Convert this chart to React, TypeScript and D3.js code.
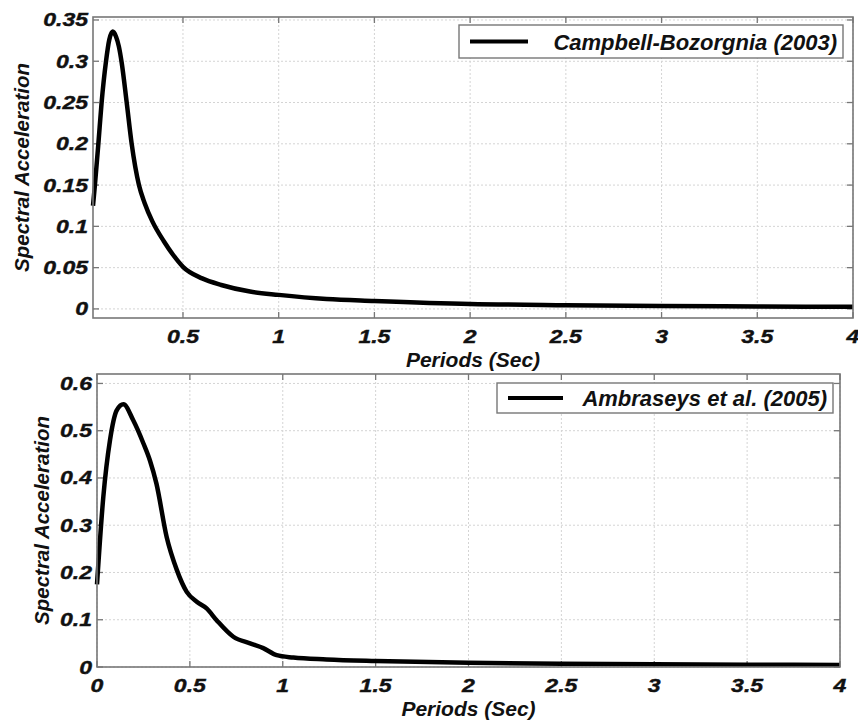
import React, { useEffect, useRef } from 'react';
import * as d3 from 'd3';

// Campbell-Bozorgnia (2003)
const cbPeriods = [0.03, 0.04, 0.058, 0.075, 0.098, 0.115, 0.133, 0.15, 0.165, 0.18, 0.206, 0.232, 0.27, 0.3, 0.34, 0.4, 0.45, 0.5, 0.6, 0.7, 0.85, 1.0, 1.25, 1.5, 2.0, 2.5, 3.0, 3.5, 4.0];
const cbSa = [0.125, 0.15, 0.2, 0.25, 0.3, 0.326, 0.336, 0.33, 0.318, 0.298, 0.25, 0.2, 0.15, 0.128, 0.106, 0.082, 0.065, 0.051, 0.037, 0.029, 0.021, 0.017, 0.012, 0.0097, 0.006, 0.0045, 0.0035, 0.003, 0.0025];

// Ambraseys et al. (2005)
const amPeriods = [0, 0.034, 0.07, 0.106, 0.142, 0.195, 0.25, 0.285, 0.32, 0.375, 0.43, 0.483, 0.537, 0.59, 0.644, 0.734, 0.824, 0.895, 0.967, 1.057, 1.236, 1.5, 2.0, 2.5, 3.0, 3.5, 4.0];
const amSa = [0.175, 0.36, 0.48, 0.543, 0.556, 0.522, 0.473, 0.437, 0.388, 0.275, 0.205, 0.159, 0.138, 0.124, 0.099, 0.064, 0.05, 0.04, 0.025, 0.02, 0.016, 0.0127, 0.009, 0.007, 0.006, 0.005, 0.004];

const topXTicks = [0.5, 1, 1.5, 2, 2.5, 3, 3.5, 4];
const topYTicks = [0, 0.05, 0.1, 0.15, 0.2, 0.25, 0.3, 0.35];
const botXTicks = [0, 0.5, 1, 1.5, 2, 2.5, 3, 3.5, 4];
const botYTicks = [0, 0.1, 0.2, 0.3, 0.4, 0.5, 0.6];

const FONT = "'Liberation Sans', Arial, sans-serif";

function drawPanel(svg, p) {
  const x = d3.scaleLinear().domain(p.xDomain).range([p.left, p.right]);
  const y = d3.scaleLinear().domain(p.yDomain).range([p.bottom, p.top]);
  const g = svg.append('g');

  // grid
  g.selectAll('.gx').data(p.xTicks).enter().append('line')
    .attr('x1', d => x(d)).attr('x2', d => x(d))
    .attr('y1', p.top).attr('y2', p.bottom)
    .attr('stroke', '#d4d4d4').attr('stroke-dasharray', '2,2');
  g.selectAll('.gy').data(p.yTicks).enter().append('line')
    .attr('x1', p.left).attr('x2', p.right)
    .attr('y1', d => y(d)).attr('y2', d => y(d))
    .attr('stroke', '#d4d4d4').attr('stroke-dasharray', '2,2');

  // inward ticks on all four sides
  const tl = 6;
  p.xTicks.forEach(d => {
    g.append('line').attr('x1', x(d)).attr('x2', x(d)).attr('y1', p.bottom).attr('y2', p.bottom - tl).attr('stroke', '#777').attr('stroke-width', 1.3);
    g.append('line').attr('x1', x(d)).attr('x2', x(d)).attr('y1', p.top).attr('y2', p.top + tl).attr('stroke', '#777').attr('stroke-width', 1.3);
  });
  p.yTicks.forEach(d => {
    g.append('line').attr('x1', p.left).attr('x2', p.left + tl).attr('y1', y(d)).attr('y2', y(d)).attr('stroke', '#777').attr('stroke-width', 1.3);
    g.append('line').attr('x1', p.right).attr('x2', p.right - tl).attr('y1', y(d)).attr('y2', y(d)).attr('stroke', '#777').attr('stroke-width', 1.3);
  });

  // curve
  const line = d3.line().x(d => x(d[0])).y(d => y(d[1])).curve(d3.curveMonotoneX);
  g.append('path')
    .datum(p.periods.map((t, i) => [t, p.sa[i]]))
    .attr('d', line)
    .attr('fill', 'none').attr('stroke', '#000').attr('stroke-width', 4.5)
    .attr('stroke-linejoin', 'round');

  // box
  g.append('rect')
    .attr('x', p.left).attr('y', p.top)
    .attr('width', p.right - p.left).attr('height', p.bottom - p.top)
    .attr('fill', 'none').attr('stroke', '#777').attr('stroke-width', 1.6);

  // tick labels
  const fmt = d => String(d);
  p.xTicks.forEach(d => {
    g.append('text')
      .attr('transform', `translate(${x(d)},${p.bottom + 25}) scale(1.28,1)`)
      .attr('text-anchor', 'middle')
      .attr('font-family', FONT).attr('font-weight', 'bold').attr('font-style', 'italic')
      .attr('font-size', 18).attr('fill', '#111')
      .attr('stroke', '#111').attr('stroke-width', 0.4)
      .text(fmt(d));
  });
  p.yTicks.forEach(d => {
    g.append('text')
      .attr('transform', `translate(${p.left - 5},${y(d) + 6.5}) scale(1.28,1)`)
      .attr('text-anchor', 'end')
      .attr('font-family', FONT).attr('font-weight', 'bold').attr('font-style', 'italic')
      .attr('font-size', 18).attr('fill', '#111')
      .attr('stroke', '#111').attr('stroke-width', 0.4)
      .text(fmt(d));
  });

  // axis labels
  g.append('text')
    .attr('x', (p.left + p.right) / 2).attr('y', p.bottom + 49)
    .attr('text-anchor', 'middle')
    .attr('font-family', FONT).attr('font-weight', 'bold').attr('font-style', 'italic')
    .attr('font-size', 21).attr('fill', '#111')
    .text('Periods (Sec)');
  g.append('text')
    .attr('transform', `translate(${p.yLabelX},${(p.top + p.bottom) / 2}) rotate(-90)`)
    .attr('text-anchor', 'middle').attr('dominant-baseline', 'central')
    .attr('font-family', FONT).attr('font-weight', 'bold').attr('font-style', 'italic')
    .attr('font-size', 20.5).attr('fill', '#111')
    .text('Spectral Acceleration');

  // legend
  const lg = p.legend;
  g.append('rect')
    .attr('x', lg.x0).attr('y', lg.y0).attr('width', lg.x1 - lg.x0).attr('height', lg.y1 - lg.y0)
    .attr('fill', '#fff').attr('stroke', '#777').attr('stroke-width', 1.4);
  const ly = (lg.y0 + lg.y1) / 2;
  g.append('line')
    .attr('x1', lg.lineX0).attr('x2', lg.lineX1).attr('y1', ly).attr('y2', ly)
    .attr('stroke', '#000').attr('stroke-width', 4);
  g.append('text')
    .attr('x', lg.x1 - 6).attr('y', ly + 8)
    .attr('text-anchor', 'end')
    .attr('font-family', FONT).attr('font-weight', 'bold').attr('font-style', 'italic')
    .attr('font-size', 22).attr('fill', '#111')
    .text(lg.label);
}

export default function App() {
  const svgRef = useRef(null);

  useEffect(() => {
    const svg = d3.select(svgRef.current);
    svg.selectAll('*').remove();

    drawPanel(svg, {
      left: 93, right: 853, top: 17, bottom: 318,
      xDomain: [0.03, 4], yDomain: [-0.011, 0.3536],
      xTicks: topXTicks, yTicks: topYTicks,
      periods: cbPeriods, sa: cbSa,
      yLabelX: 21,
      legend: { x0: 459, x1: 843, y0: 25, y1: 58, lineX0: 470, lineX1: 528, label: 'Campbell-Bozorgnia (2003)' },
    });

    drawPanel(svg, {
      left: 97, right: 840, top: 374, bottom: 667,
      xDomain: [0, 4], yDomain: [0, 0.62],
      xTicks: botXTicks, yTicks: botYTicks,
      periods: amPeriods, sa: amSa,
      yLabelX: 41,
      legend: { x0: 497, x1: 833, y0: 383, y1: 413, lineX0: 508, lineX1: 563, label: 'Ambraseys et al. (2005)' },
    });

    return () => {
      d3.select(svgRef.current).selectAll('*').remove();
    };
  }, []);

  return (
    <svg ref={svgRef} width={858} height={720}
      style={{ position: 'absolute', left: 0, top: 0, background: '#fff' }} />
  );
}
